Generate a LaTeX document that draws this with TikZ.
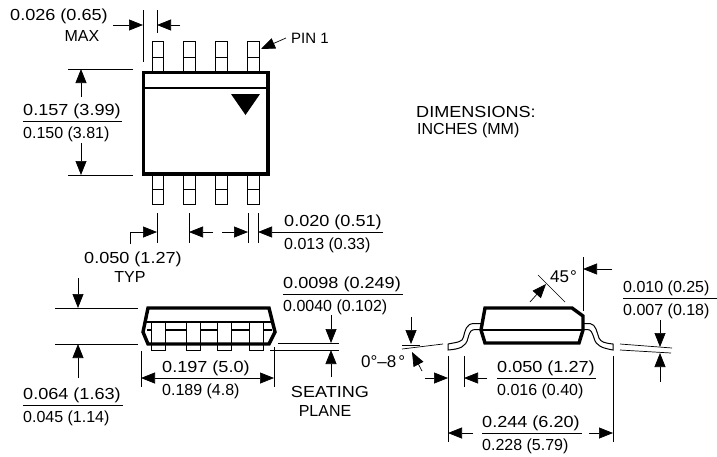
\documentclass[tikz,border=0pt]{standalone}
\usepackage{fontspec}
\setmainfont{Liberation Sans}
\newfontfamily\widefont[FakeStretch=1.13]{Liberation Sans}
\usetikzlibrary{arrows.meta}
\tikzstyle{outline} = [draw,line width=3.4pt,line join=miter]
\tikzstyle{thin line} = [draw,line width=0.8pt]
\tikzstyle{dim line} = [draw,line width=0.7pt]
\tikzstyle{dim arrow} = [draw,line width=0.7pt,-{Triangle[length=14pt,width=11pt]}]
\tikzstyle{pin} = [draw,line width=1pt,fill=white]
\tikzstyle{upper} = [font=\widefont\fontsize{16}{18}\selectfont,anchor=base west,inner sep=0pt]
\tikzstyle{lower} = [font=\fontsize{16}{18}\selectfont,anchor=base west,inner sep=0pt]
\tikzstyle{angle} = [font=\fontsize{17}{18}\selectfont,anchor=base west,inner sep=0pt]
\begin{document}
\begin{tikzpicture}[x=1pt,y=-1pt]
\useasboundingbox (0,0) rectangle (717,456);
% top view
\foreach \x in {152,183.5,215.5,247.5}{
  \draw[pin] (\x,41) rectangle (\x+11.5,71);
  \draw[pin] (\x,175) rectangle (\x+11.5,204);
  \draw[thin line] (\x,57) -- (\x+11.5,57);
  \draw[thin line] (\x,189) -- (\x+11.5,189);
}
\path[outline,fill=white] (143.5,72.5) rectangle (268,174);
\draw[line width=1.1pt] (143.5,88) -- (268,88);
\fill (231,94) -- (260,94) -- (245.5,115) -- cycle;
% side view
\draw[line width=1.4pt] (147,330) -- (272,330);
\draw[line width=1.2pt] (146,322) -- (271,322);
\foreach \x in {151,186,217,249}{
  \draw[pin] (\x,322) rectangle (\x+14,350);
}
\path[outline] (148,308) -- (269,308) -- (275,332) -- (269,344) -- (148,344) -- (143,332) -- cycle;
% end view
\draw[pin] (481,323.5) -- (474,323.5) .. controls (466,323.5) and (465,331) .. (463.5,337)
  .. controls (462.5,342) and (458,342) .. (448,344) -- (448,350)
  .. controls (460,349) and (466,347) .. (468,338) .. controls (470,331) and (471,329.5) .. (476,329.5) -- (481,329.5);
\draw[pin] (583,323.5) -- (590,323.5) .. controls (596,324) and (597,333) .. (599,338)
  .. controls (601,342) and (604,343) .. (613,344) -- (613,350)
  .. controls (602,348) and (596,346) .. (594,338) .. controls (592,332) and (591,329.5) .. (587,329.5) -- (583,329.5);
\path[outline,fill=white] (485,308) -- (572,308) -- (583,316) -- (583,330) -- (579,343) -- (485,343) -- (481,330) -- cycle;
\draw[line width=1.2pt] (481,330) -- (583,330);
% extension lines
\foreach \a/\b in {{(143,10)/(143,62)}, {(157,10)/(157,33)}, {(68,69)/(133,69)}, {(68,175)/(133,175)},
                   {(157,213)/(157,243)}, {(189,213)/(189,243)}, {(248,213)/(248,243)}, {(258,213)/(258,243)},
                   {(55,308)/(138,308)}, {(55,344)/(138,344)}, {(141,351)/(141,387)}, {(274,347)/(274,387)},
                   {(278,343)/(339,343)}, {(270,350)/(339,350)}, {(402,345)/(420,345)}, {(402,349)/(443,344)},
                   {(448,356)/(448,442)}, {(464,356)/(464,387)}, {(613,356)/(613,442)},
                   {(538,275)/(565,302)}, {(583,257)/(583,311)},
                   {(620,344)/(672,348)}, {(620,350)/(671,353)}}{
  \path[dim line] \a -- \b;
}
% dimension arrows
\foreach \a/\b in {{(113,25)/(143,25)}, {(180,25)/(157,25)}, {(81,97)/(81,69)}, {(81,143)/(81,175)},
                   {(286,38)/(261,49)}, {(213,232)/(189,232)}, {(222,232)/(248,232)}, {(383,232)/(258,232)},
                   {(78,278)/(78,308)}, {(78,378)/(78,344)}, {(331,315)/(331,343)}, {(331,377)/(331,350)},
                   {(530,302)/(546,284)}, {(612,269)/(583,269)}, {(660,320)/(660,347)}, {(660,382)/(660,353)},
                   {(411,317)/(411,344)}, {(422,371)/(412,352)}, {(425,378)/(448,378)}, {(487,378)/(464,378)},
                   {(473,433)/(448,433)}, {(589,433)/(613,433)}}{
  \path[dim arrow] \a -- \b;
}
\path[dim line] (130,244) -- (130,232) -- (145,232);
\path[dim arrow] (144,232) -- (157,232);
\path[draw,line width=0.7pt,{Triangle[length=14pt,width=11pt]}-{Triangle[length=14pt,width=11pt]}] (141,378) -- (274,378);
% fractions
\foreach \x/\y/\len/\name/\tstyle/\top/\bot in {23/121/99/h157/upper/0.157 (3.99)/0.150 (3.81),
                                        284/232/99/w020/upper/0.020 (0.51)/0.013 (0.33),
                                        283/294/120/t0098/upper/0.0098 (0.249)/0.0040 (0.102),
                                        23/405/100/a064/upper/0.064 (1.63)/0.045 (1.14),
                                        623/298/94/c010/lower/0.010 (0.25)/0.007 (0.18),
                                        497/378/99/l050/upper/0.050 (1.27)/0.016 (0.40),
                                        482/433/100/d244/upper/0.244 (6.20)/0.228 (5.79)}{
  \node[\tstyle] (\name top) at (\x,\y-6) {\top};
  \node[lower] (\name bot) at (\x,\y+17) {\bot};
  \path[dim line] (\x,\y) -- ++(\len,0);
}
% the other labels
\node[upper] (maxval) at (10,20) {0.026 (0.65)};
\node[lower,anchor=base] (maxtxt) at (82,41) {MAX};
\node[lower,font=\fontsize{15}{18}\selectfont] (pinone) at (291,43) {PIN 1};
\node[upper] (pitch) at (84,263) {0.050 (1.27)};
\node[lower,anchor=base] (typ) at (130,282) {TYP};
\node[upper] (len197) at (162,372) {0.197 (5.0)};
\node[lower] (len189) at (162,395) {0.189 (4.8)};
\node[upper,anchor=base] (seat) at (330,397) {SEATING};
\node[lower,anchor=base] (plane) at (325,416) {PLANE};
\node[angle] (deg45) at (550,282) {45\kern1pt°};
\node[angle] (range) at (361,367) {0°–8\kern2pt°};
\node[upper] (dimen) at (416,117) {DIMENSIONS:};
\node[lower] (units) at (417,134) {INCHES (MM)};
\end{tikzpicture}
\end{document}
